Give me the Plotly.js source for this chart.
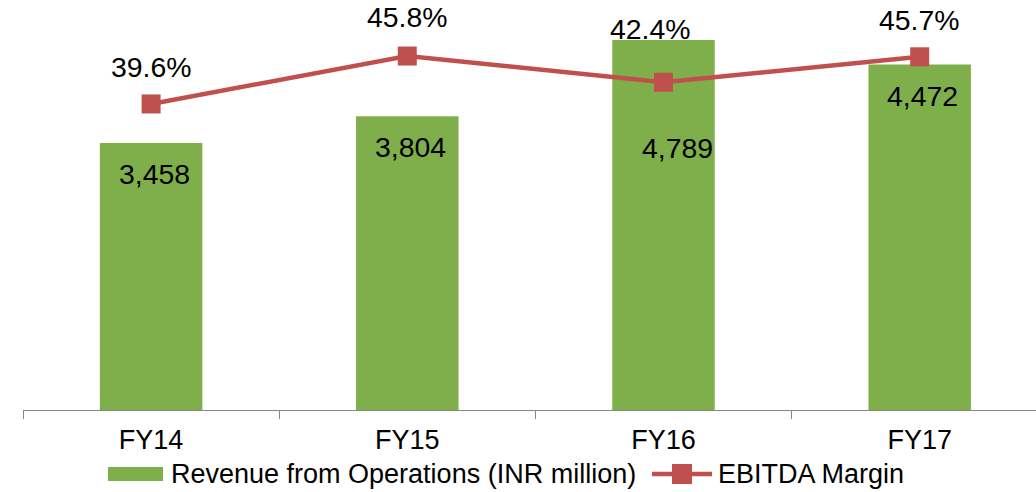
<!DOCTYPE html>
<html>
<head>
<meta charset="utf-8">
<script src="https://cdn.plot.ly/plotly-3.0.1.min.js"></script>
<style>
  html, body { margin: 0; padding: 0; background: #ffffff; }
  #chart { width: 1036px; height: 492px; }
</style>
</head>
<body>
<div id="chart"></div>
<script>
// ---- data ----
const categories = ["FY14", "FY15", "FY16", "FY17"];
const revenue = [3458, 3804, 4789, 4472];          // INR million
const ebitdaMargin = [39.6, 45.8, 42.4, 45.7];     // %
const revenueName = "Revenue from Operations (INR million)";
const marginName = "EBITDA Margin";

// ---- styling ----
const FONT = "Liberation Sans, Arial, Helvetica, sans-serif";
const FS = 28.4;   // data labels
const TFS = 27;    // tick labels
const LFS = 27;    // legend
const GREEN = "#7FAF4B";
const RED = "#C0504D";
const W = 1036, H = 492;
const M = { l: 23, r: 0, t: 0, b: 82 };
const PW = W - M.l - M.r, PH = H - M.t - M.b;
const px = (x) => (x - M.l) / PW;         // pixel -> paper x
const py = (y) => (PH + M.t - y) / PH;    // pixel -> paper y

const traces = [
  {
    type: "bar",
    name: revenueName,
    x: categories,
    y: revenue,
    marker: { color: GREEN },
    width: 0.4,
    hoverinfo: "skip",
    showlegend: false
  },
  {
    type: "scatter",
    mode: "lines+markers",
    name: marginName,
    x: categories,
    y: ebitdaMargin,
    yaxis: "y2",
    line: { color: RED, width: 4.5 },
    marker: { color: RED, symbol: "square", size: 19 },
    hoverinfo: "skip",
    showlegend: false
  }
];

// label offsets (px) – styling only
const barLabelShift = { FY16: { x: 14, y: -108 } };
const pctLabelShift = { FY15: { x: 0, y: 39 }, FY16: { x: -13, y: 53 } };

const annotations = [];
categories.forEach((c, i) => {
  const bs = barLabelShift[c] || { x: 3, y: -31 };
  annotations.push({
    x: c, y: revenue[i], xref: "x", yref: "y",
    text: revenue[i].toLocaleString("en-US"),
    showarrow: false, xanchor: "center", yanchor: "middle",
    xshift: bs.x, yshift: bs.y,
    font: { family: FONT, size: FS, color: "#000000" }
  });
  const ps = pctLabelShift[c] || { x: 0, y: 37 };
  annotations.push({
    x: c, y: ebitdaMargin[i], xref: "x", yref: "y2",
    text: ebitdaMargin[i].toFixed(1) + "%",
    showarrow: false, xanchor: "center", yanchor: "middle",
    xshift: ps.x, yshift: ps.y,
    font: { family: FONT, size: FS, color: "#000000" }
  });
});

// ---- custom legend (symbols as shapes, labels as annotations) ----
const legY = 474;
const shapes = [
  { type: "rect", xref: "paper", yref: "paper",
    x0: px(108), x1: px(163), y0: py(legY + 7), y1: py(legY - 7),
    fillcolor: GREEN, line: { width: 0 } },
  { type: "line", xref: "paper", yref: "paper",
    x0: px(652), x1: px(712), y0: py(legY), y1: py(legY),
    line: { color: RED, width: 4.5 } },
  { type: "rect", xref: "paper", yref: "paper",
    x0: px(672), x1: px(692), y0: py(legY + 10), y1: py(legY - 10),
    fillcolor: RED, line: { width: 0 } }
];
annotations.push(
  { xref: "paper", yref: "paper", x: px(169), y: py(legY), text: revenueName,
    showarrow: false, xanchor: "left", yanchor: "middle",
    font: { family: FONT, size: LFS, color: "#000000" } },
  { xref: "paper", yref: "paper", x: px(716), y: py(legY), text: marginName,
    showarrow: false, xanchor: "left", yanchor: "middle",
    font: { family: FONT, size: LFS, color: "#000000" } }
);

const layout = {
  width: W,
  height: H,
  margin: { l: M.l, r: M.r, t: M.t, b: M.b, autoexpand: false },
  paper_bgcolor: "#ffffff",
  plot_bgcolor: "#ffffff",
  font: { family: FONT, size: FS, color: "#000000" },
  showlegend: false,
  xaxis: {
    type: "category",
    range: [-0.5, 3.454],
    showline: true,
    linecolor: "#868686",
    linewidth: 1,
    ticks: "outside",
    tickson: "boundaries",
    ticklen: 8,
    tickcolor: "#868686",
    tickwidth: 1,
    ticklabelstandoff: 6,
    showgrid: false,
    zeroline: false,
    automargin: false,
    tickfont: { family: FONT, size: TFS, color: "#000000" }
  },
  yaxis: {
    range: [0, 5308],
    visible: false,
    showgrid: false,
    zeroline: false
  },
  yaxis2: {
    range: [0, 53.05],
    overlaying: "y",
    side: "right",
    visible: false,
    showgrid: false,
    zeroline: false
  },
  shapes: shapes,
  annotations: annotations
};

Plotly.newPlot("chart", traces, layout, { displayModeBar: false, staticPlot: true });
</script>
</body>
</html>
